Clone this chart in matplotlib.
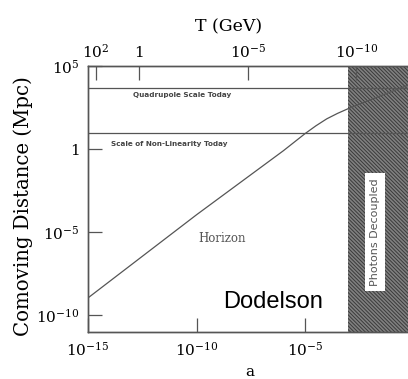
import matplotlib
matplotlib.use("Agg")
import matplotlib.pyplot as plt
import numpy as np

# ---- data ----
log_a = [-15, -10, -6, -5, -4.5, -4, -3.5, -3, -2, -1, 0]
log_horizon_mpc = [-8.95, -3.95, -0.1, 0.93, 1.4, 1.82, 2.15, 2.44, 2.96, 3.47, 3.97]
quadrupole_scale_mpc = 5000.0
nonlinear_scale_mpc = 10.0
a_decoupling = 1e-3
T_today_GeV = 2.35e-13
T_ticks = [1e2, 1, 1e-5, 1e-10]
T_tick_labels = ["$10^{2}$", "1", "$10^{-5}$", "$10^{-10}$"]
a_ticks = [1e-15, 1e-10, 1e-5]
a_tick_labels = ["$10^{-15}$", "$10^{-10}$", "$10^{-5}$"]
d_ticks = [1e-10, 1e-5, 1, 1e5]
d_tick_labels = ["$10^{-10}$", "$10^{-5}$", "1", "$10^{5}$"]

plt.rcParams['font.family'] = ['DejaVu Serif']
plt.rcParams['mathtext.fontset'] = 'dejavuserif'
plt.rcParams['hatch.linewidth'] = 0.7

W, H = 408, 379
fig = plt.figure(figsize=(W/100, H/100), dpi=100)
left, right, top, bottom = 88, 413.5, 66, 332
ax = fig.add_axes([left/W, 1-bottom/H, (right-left)/W, (bottom-top)/H])

ax.set_xscale('log')
ax.set_yscale('log')
ax.set_xlim(1e-15, 1)
ax.set_ylim(1e-11, 1e5)

line_col = '#555555'
a_vals = 10.0**np.array(log_a)
h_vals = 10.0**np.array(log_horizon_mpc)
ax.plot(a_vals, h_vals, color=line_col, lw=0.9, zorder=4)
ax.axhline(quadrupole_scale_mpc, color=line_col, lw=0.9, zorder=4)
ax.axhline(nonlinear_scale_mpc, color=line_col, lw=0.9, zorder=4)

ax.axvspan(a_decoupling, 1, facecolor='#808080', edgecolor='#3a3a3a',
           hatch='\\' * 9, lw=0, zorder=2)

ax.text(1.2e-13, 1.9e3, "Quadrupole Scale Today", fontsize=5.2, fontweight='bold',
        family='DejaVu Sans', color='#444444', va='center', ha='left')
ax.text(1.1e-14, 1.9, "Scale of Non-Linearity Today", fontsize=5.2, fontweight='bold',
        family='DejaVu Sans', color='#444444', va='center', ha='left')
ax.text(1.2e-10, 4e-6, "Horizon", fontsize=8.5, color='#555555', va='center', ha='left')
ax.text(1.7e-9, 6.5e-10, "Dodelson", fontsize=17, family='Liberation Sans', color='black',
        va='center', ha='left', zorder=6)
ax.text(1.6e-2, 1e-5, "Photons Decoupled", rotation=90, fontsize=8, family='DejaVu Sans',
        color='#555555', va='center', ha='center', zorder=6,
        bbox=dict(boxstyle='square,pad=0.45', facecolor='white', edgecolor='none'))

ax.set_xticks(a_ticks)
ax.set_xticklabels(a_tick_labels)
ax.set_yticks(d_ticks)
ax.set_yticklabels(d_tick_labels)
ax.minorticks_off()
ax.tick_params(direction='in', length=10, width=0.9, color='#555555', labelsize=11,
               pad=6)
ax.set_xlabel("a", fontsize=11)
ax.xaxis.set_label_coords(0.498, -0.125)
ax.set_ylabel("Comoving Distance (Mpc)", fontsize=14.2)
ax.yaxis.set_label_coords(-0.17, 0.474)

ax2 = ax.twiny()
ax2.set_xscale('log')
ax2.set_xlim(ax.get_xlim())
ax2.set_xticks([T_today_GeV/T for T in T_ticks])
ax2.set_xticklabels(T_tick_labels)
ax2.minorticks_off()
ax2.tick_params(direction='in', length=10, width=0.9, color='#555555', labelsize=11,
                pad=4)
ax2.set_xlabel("T (GeV)", fontsize=12.5)
ax2.xaxis.set_label_coords(0.433, 1.13)

for a_ in (ax, ax2):
    for s in a_.spines.values():
        s.set_color('#555555')
        s.set_linewidth(1.0)

fig.savefig("out.png", dpi=100)
